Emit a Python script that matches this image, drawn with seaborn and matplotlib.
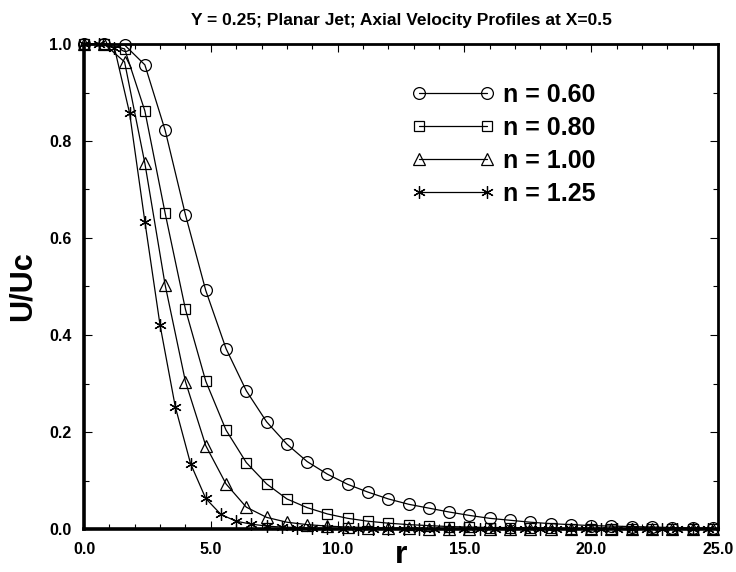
import numpy as np
import pandas as pd
import matplotlib
matplotlib.use('Agg')
import matplotlib.pyplot as plt
import seaborn as sns
from matplotlib.ticker import MultipleLocator, FormatStrFormatter

# radial positions of the markers (two grids used in the source figure)
r_grid = [0.0, 0.8, 1.6, 2.4, 3.2, 4.0, 4.8, 5.6, 6.4, 7.2, 8.0, 8.8, 9.6, 10.4, 11.2, 12.0,
          12.8, 13.6, 14.4, 15.2, 16.0, 16.8, 17.6, 18.4, 19.2, 20.0, 20.8, 21.6, 22.4, 23.2, 24.0, 24.8]
r_fine = [0.0, 0.6, 1.2, 1.8, 2.4, 3.0, 3.6, 4.2, 4.8, 5.4, 6.0, 6.6, 7.2, 7.8, 8.4, 9.0, 9.6,
          10.2, 10.8, 11.4, 12.0, 12.6, 13.2, 13.8, 14.4, 15.0, 15.6, 16.2, 16.8, 17.4, 18.0,
          18.6, 19.2, 19.8, 20.4, 21.0, 21.6, 22.2, 22.8, 23.4, 24.0, 24.6]

u_060 = [1.000, 1.000, 0.998, 0.957, 0.822, 0.648, 0.492, 0.372, 0.285, 0.221, 0.175, 0.139,
         0.113, 0.092, 0.076, 0.062, 0.051, 0.043, 0.035, 0.028, 0.022, 0.018, 0.014, 0.011,
         0.009, 0.007, 0.006, 0.005, 0.004, 0.003, 0.002, 0.002]
u_080 = [1.000, 1.000, 0.990, 0.862, 0.651, 0.453, 0.305, 0.204, 0.137, 0.093, 0.062, 0.044,
         0.031, 0.022, 0.016, 0.012, 0.009, 0.007, 0.005, 0.004, 0.003, 0.003, 0.002, 0.002,
         0.001, 0.001, 0.001, 0.001, 0.001, 0.000, 0.000, 0.000]
u_100 = [1.000, 1.000, 0.963, 0.754, 0.503, 0.304, 0.172, 0.093, 0.045, 0.024, 0.014, 0.009,
         0.006, 0.004, 0.003, 0.002, 0.002, 0.001, 0.001, 0.001, 0.001, 0.000, 0.000, 0.000,
         0.000, 0.000, 0.000, 0.000, 0.000, 0.000, 0.000, 0.000]
u_125 = [1.000, 1.000, 0.992, 0.857, 0.634, 0.420, 0.252, 0.135, 0.063, 0.030, 0.016, 0.010,
         0.006, 0.004, 0.003, 0.002, 0.002, 0.001, 0.001, 0.001, 0.001, 0.001, 0.000, 0.000,
         0.000, 0.000, 0.000, 0.000, 0.000, 0.000, 0.000, 0.000, 0.000, 0.000, 0.000, 0.000,
         0.000, 0.000, 0.000, 0.000, 0.000, 0.000]

labels = ['n = 0.60', 'n = 0.80', 'n = 1.00', 'n = 1.25']

sns.set_style('ticks')
plt.rcParams['font.family'] = ['Liberation Sans', 'DejaVu Sans']
plt.rcParams['text.color'] = 'k'
plt.rcParams['axes.labelcolor'] = 'k'
plt.rcParams['xtick.color'] = 'k'
plt.rcParams['ytick.color'] = 'k'
narrow = ['Liberation Sans Narrow', 'Liberation Sans', 'DejaVu Sans']

fig = plt.figure(figsize=(7.36, 5.72), dpi=100)
ax = fig.add_axes([84 / 736, 1 - 529 / 572, 634 / 736, 485 / 572])

series = [
    (r_grid, u_060, 'o', 8.5),
    (r_grid, u_080, 's', 7.5),
    (r_grid, u_100, '^', 8.0),
    (r_fine, u_125, (6, 2, 0), 9.0),
]
for (x, y, m, ms), lab in zip(series, labels):
    sns.lineplot(x=x, y=y, ax=ax, color='k', lw=0.9, marker=m, markersize=ms,
                 mfc='none', mec='k', mew=0.9, label=lab, clip_on=False)

ax.set_xlim(0, 25)
ax.set_ylim(0, 1.0)
ax.xaxis.set_major_locator(MultipleLocator(5))
ax.xaxis.set_minor_locator(MultipleLocator(1))
ax.yaxis.set_major_locator(MultipleLocator(0.2))
ax.yaxis.set_minor_locator(MultipleLocator(0.1))
ax.xaxis.set_major_formatter(FormatStrFormatter('%.1f'))
ax.yaxis.set_major_formatter(FormatStrFormatter('%.1f'))
ax.tick_params(which='both', direction='in', top=True, right=True, width=0.8, color='k',
               labelcolor='k')
ax.tick_params(which='major', length=6, pad=9, labelsize=11.5)
ax.tick_params(which='minor', length=3.5)
for lbl in ax.get_xticklabels() + ax.get_yticklabels():
    lbl.set_fontweight('bold')

for side in ['left', 'bottom']:
    ax.spines[side].set_linewidth(2.6)
for side in ['top', 'right']:
    ax.spines[side].set_linewidth(2.0)
for s in ax.spines.values():
    s.set_color('k')

ax.set_title('Y = 0.25; Planar Jet; Axial Velocity Profiles at X=0.5', fontsize=12.5,
             fontweight='bold', family=narrow, pad=14)
ax.set_xlabel('r', fontsize=23, fontweight='bold', labelpad=-12)
ax.set_ylabel('U/Uc', fontsize=22, fontweight='bold', labelpad=8)

leg = ax.legend(loc='upper left', bbox_to_anchor=(0.497, 0.945), frameon=False, numpoints=2,
                handlelength=3.3, handletextpad=0.35, labelspacing=0.36, borderpad=0,
                prop={'size': 18, 'weight': 'bold'})

fig.savefig('out.png', dpi=100)
